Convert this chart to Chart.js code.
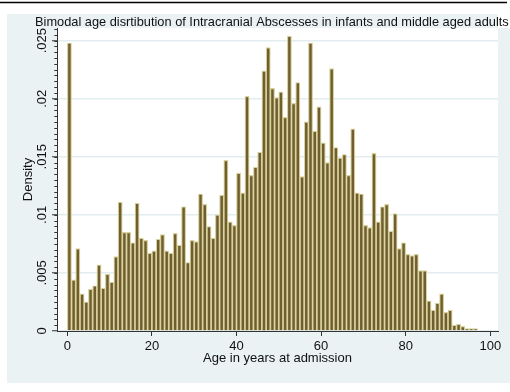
<!DOCTYPE html>
<html>
<head>
<meta charset="utf-8">
<title>Bimodal age distribution of intracranial abscesses</title>
<script src="https://cdn.jsdelivr.net/npm/chart.js@4.4.1/dist/chart.umd.min.js"></script>
<style>
  html, body { margin: 0; padding: 0; background: #ffffff; }
  #wrap { width: 510px; height: 392px; }
</style>
</head>
<body>
<div id="wrap"><canvas id="chart" width="510" height="392"></canvas></div>
<script>
// Histogram bins (start age of each 1-year bin)
const ageBins = [
  0, 1, 2, 3, 4, 5, 6, 7, 8, 9,
  10, 11, 12, 13, 14, 15, 16, 17, 18, 19,
  20, 21, 22, 23, 24, 25, 26, 27, 28, 29,
  30, 31, 32, 33, 34, 35, 36, 37, 38, 39,
  40, 41, 42, 43, 44, 45, 46, 47, 48, 49,
  50, 51, 52, 53, 54, 55, 56, 57, 58, 59,
  60, 61, 62, 63, 64, 65, 66, 67, 68, 69,
  70, 71, 72, 73, 74, 75, 76, 77, 78, 79,
  80, 81, 82, 83, 84, 85, 86, 87, 88, 89,
  90, 91, 92, 93, 94, 95, 96,
];
const binWidth = 1;

// Density per bin
const density = [
  0.0248, 0.0044, 0.0071, 0.0032, 0.0025, 0.0036, 0.0039, 0.0057, 0.0037, 0.0049,
  0.0042, 0.0064, 0.0111, 0.0085, 0.0085, 0.0076, 0.0110, 0.0080, 0.0078, 0.0067,
  0.0069, 0.0079, 0.0083, 0.0069, 0.0067, 0.0084, 0.0074, 0.0107, 0.0059, 0.0078,
  0.0077, 0.0118, 0.0109, 0.0090, 0.0080, 0.0100, 0.0117, 0.0147, 0.0094, 0.0091,
  0.0136, 0.0119, 0.0202, 0.0134, 0.0141, 0.0154, 0.0224, 0.0244, 0.0209, 0.0201,
  0.0206, 0.0184, 0.0254, 0.0196, 0.0214, 0.0133, 0.0180, 0.0248, 0.0172, 0.0193,
  0.0162, 0.0145, 0.0226, 0.0158, 0.0149, 0.0152, 0.0134, 0.0174, 0.0119, 0.0118,
  0.0091, 0.0089, 0.0153, 0.0094, 0.0107, 0.0109, 0.0086, 0.0101, 0.0071, 0.0076,
  0.0066, 0.0065, 0.0066, 0.0052, 0.0052, 0.0026, 0.0018, 0.0024, 0.0032, 0.0016,
  0.0018, 0.0005, 0.0006, 0.0004, 0.0002, 0.0002, 0.0002,
];

const xTicks = [0, 20, 40, 60, 80, 100];
const yTicks = [0, 0.005, 0.01, 0.015, 0.02, 0.025];
const yTickLabels = ["0", ".005", ".01", ".015", ".02", ".025"];
const yMinorStep = 0.0005;

const chartTitle = "Bimodal age disrtibution of Intracranial Abscesses in infants and middle aged adults";
const xTitle = "Age in years at admission";
const yTitle = "Density";

// Look (Stata s2color-ish)
const FONT = "'Liberation Sans', Arial, sans-serif";
const TEXT = "#111111";
const AXIS = "#333333";
const GRAPH_BG = "#eaf2f3";
const GRID = "#e2edf0";
const BAR_FILL = "#705e30";
const BAR_EDGE = "#d8d29c";

/**
 * Graph region background, top rule, title and minor y ticks
 */
const stataFrame = {
  id: "stataFrame",
  beforeDraw(chart) {
    const { ctx, chartArea: a } = chart;
    ctx.save();
    ctx.fillStyle = "#ffffff";
    ctx.fillRect(0, 0, chart.width, chart.height);

    ctx.fillStyle = GRAPH_BG;
    ctx.fillRect(7, 14, a.right - 7, 369);
    ctx.fillRect(a.right, a.top, chart.width - a.right, 383 - a.top);

    ctx.fillStyle = "#ffffff";
    ctx.fillRect(a.left, a.top, a.right - a.left, a.bottom - a.top);

    ctx.strokeStyle = "#000000";
    ctx.lineWidth = 1.5;
    ctx.beginPath();
    ctx.moveTo(0, 2.5);
    ctx.lineTo(507, 2.5);
    ctx.stroke();

    ctx.fillStyle = TEXT;
    ctx.font = "12.8px " + FONT;
    ctx.textAlign = "left";
    ctx.textBaseline = "alphabetic";
    ctx.fillText(chartTitle, 35, 25.5);
    ctx.restore();
  },
  afterDraw(chart) {
    const { ctx, chartArea: a } = chart;
    const y = chart.scales.y;
    ctx.save();
    ctx.strokeStyle = AXIS;
    ctx.lineWidth = 1;
    ctx.beginPath();
    for (let v = yMinorStep; v <= y.max; v += yMinorStep) {
      const py = Math.round(y.getPixelForValue(v)) + 0.5;
      ctx.moveTo(a.left - 2.7, py);
      ctx.lineTo(a.left, py);
    }
    ctx.stroke();
    ctx.restore();
  },
};

const ctx = document.getElementById("chart").getContext("2d");

new Chart(ctx, {
  type: "bar",
  data: {
    datasets: [
      {
        data: density.map((d, i) => ({ x: ageBins[i] + binWidth / 2, y: d })),
        backgroundColor: BAR_FILL,
        borderColor: BAR_EDGE,
        borderWidth: 1.2,
        barPercentage: 1,
        categoryPercentage: 1,
      },
    ],
  },
  options: {
    responsive: false,
    devicePixelRatio: 1,
    animation: false,
    events: [],
    layout: { padding: { left: 0, top: 28, right: 12, bottom: 0 } },
    plugins: {
      legend: { display: false },
      tooltip: { enabled: false },
    },
    scales: {
      x: {
        type: "linear",
        min: -2.43,
        max: 101.82,
        offset: false,
        afterBuildTicks: (s) => {
          s.ticks = xTicks.map((v) => ({ value: v }));
        },
        afterFit: (s) => {
          s.height = 61;
        },
        grid: {
          offset: false,
          drawOnChartArea: false,
          tickLength: 5,
          tickColor: AXIS,
          tickWidth: 1,
        },
        border: { display: true, color: AXIS, width: 1 },
        ticks: {
          color: TEXT,
          font: { family: FONT, size: 13 },
          padding: 2.4,
          maxRotation: 0,
          autoSkip: false,
        },
        title: {
          display: true,
          text: xTitle,
          color: TEXT,
          font: { family: FONT, size: 13 },
          padding: { top: 0, bottom: 25.4 },
        },
      },
      y: {
        min: 0,
        max: 0.02609,
        afterBuildTicks: (s) => {
          s.ticks = yTicks.map((v) => ({ value: v }));
        },
        afterFit: (s) => {
          s.width = 57;
        },
        grid: {
          color: GRID,
          lineWidth: 1.5,
          tickLength: 5,
          tickColor: AXIS,
          tickWidth: 1,
        },
        border: { display: true, color: AXIS, width: 1 },
        ticks: {
          color: TEXT,
          font: { family: FONT, size: 13 },
          minRotation: 90,
          maxRotation: 90,
          crossAlign: "center",
          padding: -3,
          autoSkip: false,
          callback: (value, index) => yTickLabels[index],
        },
        title: {
          display: true,
          text: yTitle,
          color: TEXT,
          font: { family: FONT, size: 13 },
          padding: { top: 20.5, bottom: 0 },
        },
      },
    },
  },
  plugins: [stataFrame],
});
</script>
</body>
</html>
